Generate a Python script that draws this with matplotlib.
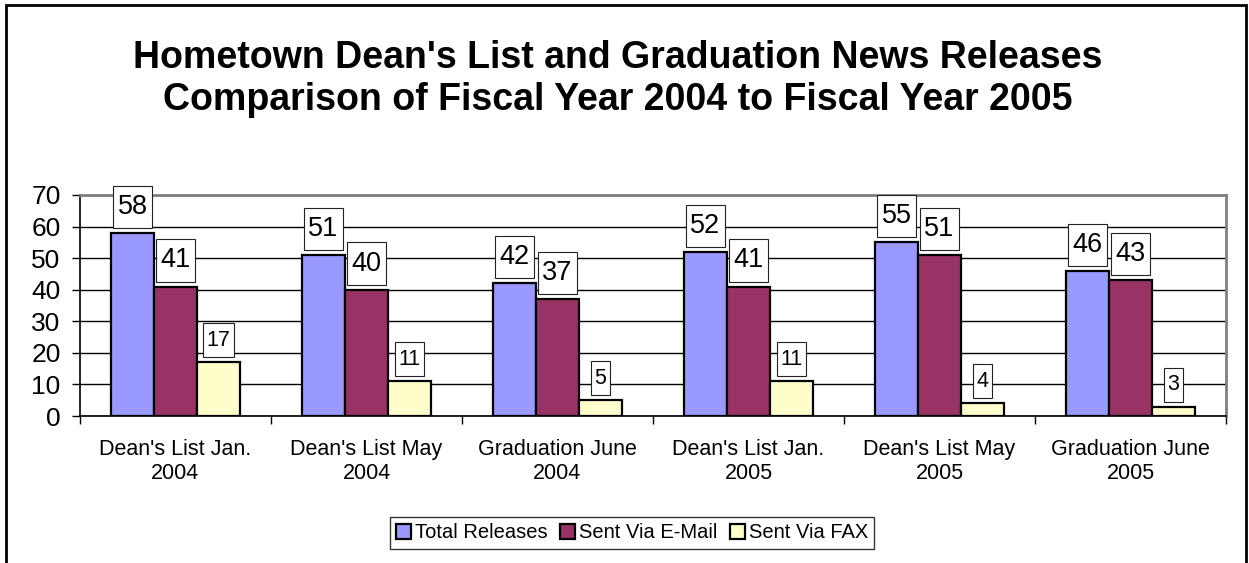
import matplotlib
matplotlib.use("Agg")
import matplotlib.pyplot as plt
import numpy as np
from matplotlib.patches import Rectangle
from matplotlib.path import Path

plt.rcParams['font.family'] = ['Liberation Sans', 'DejaVu Sans']

categories = ["Dean's List Jan.\n2004", "Dean's List May\n2004", "Graduation June\n2004",
              "Dean's List Jan.\n2005", "Dean's List May\n2005", "Graduation June\n2005"]
series_names = ["Total Releases", "Sent Via E-Mail", "Sent Via FAX"]
total = [58, 51, 42, 52, 55, 46]
email = [41, 40, 37, 41, 51, 43]
fax = [17, 11, 5, 11, 4, 3]
colors = ["#9999FF", "#993366", "#FFFFCC"]
label_sizes = [19.5, 19.5, 15.5]


def tallbox(x0, y0, width, height, mutation_size):
    px = 0.17 * mutation_size
    py = 0.3 * mutation_size
    x1, y1 = x0 + width + px, y0 + height + py
    xa, ya = x0 - px, y0 - py
    return Path([(xa, ya), (x1, ya), (x1, y1), (xa, y1), (xa, ya)], closed=True)


fig = plt.figure(figsize=(12.49, 5.63), dpi=100)
ax = fig.add_axes([80/1249, 1-416/563, (1226-80)/1249, (416-195)/563])

x = np.arange(len(categories))
w = 0.225
for i, (vals, c, name, fs) in enumerate(zip([total, email, fax], colors, series_names, label_sizes)):
    pos = x + (i - 1) * w
    ax.bar(pos, vals, width=w, color=c, edgecolor='black', linewidth=1.6,
           label=name, zorder=3)
    off = (5 + 0.3 * fs * 100 / 72) * 72 / 100
    for px_, v in zip(pos, vals):
        ax.annotate(str(v), (px_, v), xytext=(0, off), textcoords='offset points',
                    ha='center', va='bottom', fontsize=fs, zorder=5,
                    bbox=dict(boxstyle=tallbox, fc='white', ec='#222222', lw=0.8))

ax.set_xlim(-0.5, len(categories) - 0.5)
ax.set_ylim(0, 70)
ax.set_yticks(range(0, 71, 10))
ax.tick_params(axis='y', labelsize=19, length=6, width=1, direction='out', pad=8)
ax.set_xticks(x)
ax.set_xticklabels(categories, fontsize=15.5, linespacing=1.2)
ax.tick_params(axis='x', length=0, pad=16.5)
ax.set_xticks(np.arange(-0.5, len(categories), 1), minor=True)
ax.tick_params(axis='x', which='minor', length=6, width=1, direction='out')
ax.yaxis.grid(True, color='black', linewidth=1, zorder=0)
ax.set_axisbelow(True)
for s in ['top', 'right']:
    ax.spines[s].set_color('#808080')
    ax.spines[s].set_linewidth(2)
for s in ['left', 'bottom']:
    ax.spines[s].set_color('black')
    ax.spines[s].set_linewidth(1.2)

fig.text(618/1249, 1-79/563, "Hometown Dean's List and Graduation News Releases\nComparison of Fiscal Year 2004 to Fiscal Year 2005",
         ha='center', va='center', fontsize=27, fontweight='bold', linespacing=1.2)

leg = fig.legend(loc='center', bbox_to_anchor=(632/1249, 1-533/563), ncol=3, fontsize=14.5,
                 frameon=True, fancybox=False, edgecolor='black', handlelength=0.75,
                 handleheight=0.75, handletextpad=0.2, columnspacing=0.6, borderpad=0.3)
leg.get_frame().set_linewidth(1)

fig.patches.append(Rectangle((6/1249, -0.05), (1246-6)/1249, 1.05 - 5/563, transform=fig.transFigure,
                             fill=False, edgecolor='black', linewidth=2))

fig.savefig("out.png", dpi=100)
